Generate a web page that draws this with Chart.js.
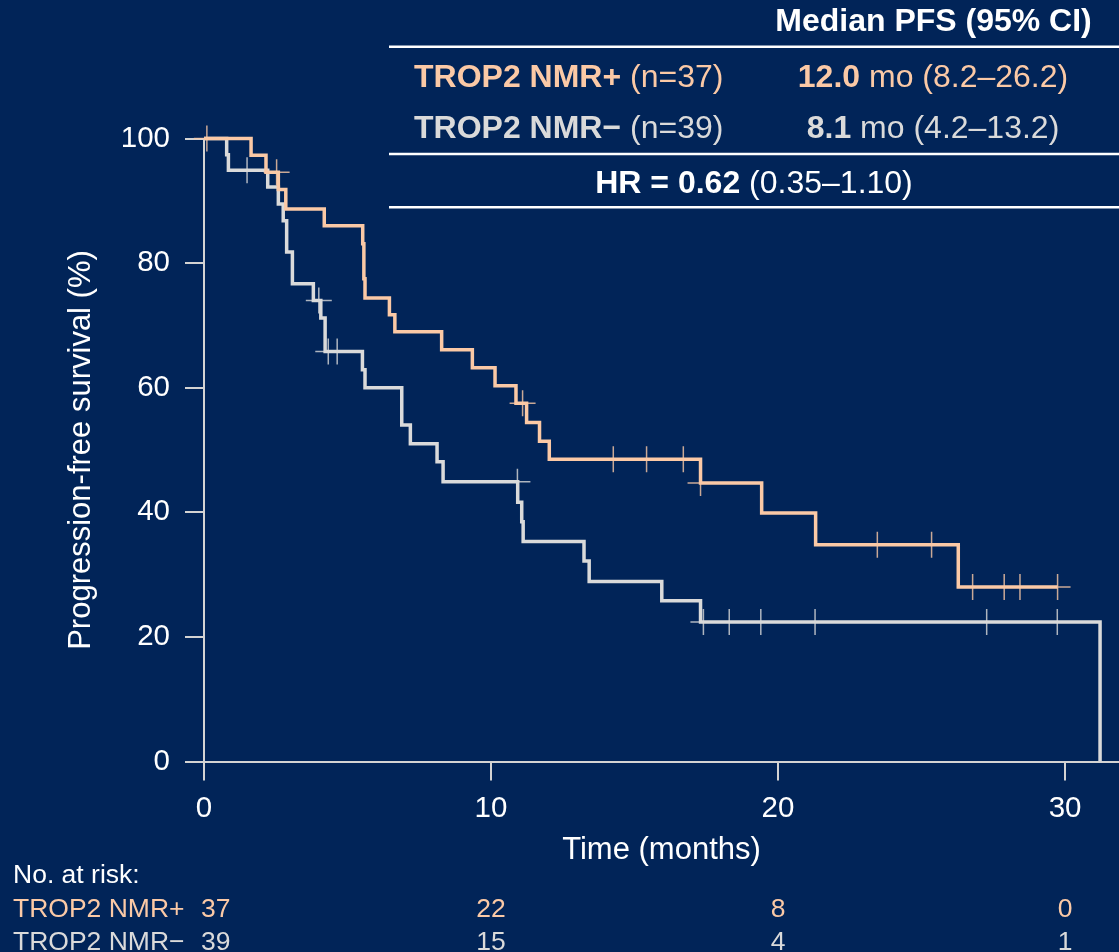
<!DOCTYPE html>
<html>
<head>
<meta charset="utf-8">
<script src="https://cdn.jsdelivr.net/npm/chart.js@4.4.1/dist/chart.umd.min.js"></script>
<style>
  html, body { margin: 0; padding: 0; background: #012458; overflow: hidden; }
  #wrap { width: 1119px; height: 952px; position: relative; }
  canvas { display: block; }
</style>
</head>
<body>
<div id="wrap"><canvas id="c"></canvas></div>
<script>
// ---- Data ----
const groupNames = ['TROP2 NMR+', 'TROP2 NMR\u2212'];

// TROP2 NMR+ : event times (months) and survival (%) after each step
const posTimes = [0, 1.64, 2.16, 2.59, 2.85, 4.19, 5.53, 5.57, 5.61, 6.46, 6.65, 8.28, 9.35, 10.14, 10.87, 11.24, 11.69, 12.03, 17.3, 19.43, 21.31, 26.28, 29.74];
const posSurv  = [100, 97.3, 94.6, 91.8, 88.7, 86.0, 83.1, 77.5, 74.4, 71.7, 69.0, 66.1, 63.2, 60.3, 57.5, 54.4, 51.4, 48.5, 44.7, 39.9, 34.8, 28.0, 28.0];
const posCensor = [0.1, 2.53, 11.1, 14.26, 15.42, 16.7, 17.3, 23.46, 25.35, 26.78, 27.88, 28.43, 29.74];

// TROP2 NMR− : event times (months) and survival (%)
const negTimes = [0, 0.79, 0.85, 2.22, 2.59, 2.76, 2.88, 3.08, 3.81, 4.07, 4.22, 5.52, 5.61, 6.89, 7.19, 8.12, 8.33, 10.93, 11.07, 11.12, 13.24, 13.42, 15.95, 17.3, 31.22];
const negSurv  = [100, 97.4, 94.9, 92.2, 89.5, 86.8, 81.8, 76.7, 74.0, 71.2, 65.8, 62.9, 60.0, 54.0, 51.0, 48.1, 44.9, 41.6, 38.5, 35.3, 32.2, 28.9, 25.8, 22.4, 0];
const negCensor = [1.5, 4.0, 4.33, 4.64, 10.92, 17.4, 18.3, 19.4, 21.29, 27.27, 29.73];

// Axis ticks
const xTicks = [0, 10, 20, 30];
const yTicks = [0, 20, 40, 60, 80, 100];

// Numbers at risk
const riskTimes = [0, 10, 20, 30];
const riskPos = [37, 22, 8, 0];
const riskNeg = [39, 15, 4, 1];

// Summary table
const medianPos = ['12.0', ' mo (8.2\u201326.2)'];
const medianNeg = ['8.1', ' mo (4.2\u201313.2)'];
const nPos = ' (n=37)';
const nNeg = ' (n=39)';
const hrText = ['HR = ', '0.62', ' (0.35\u20131.10)'];

// ---- Styling ----
const ORANGE = '#fbc9a6';
const GREY = '#dadada';
const AXIS = '#d3d3d3';
const FONT = '"Liberation Sans", Arial, sans-serif';

function survAt(times, surv, t) {
  let v = surv[0];
  for (let i = 0; i < times.length; i++) { if (times[i] <= t) v = surv[i]; }
  return v;
}
const toXY = (ts, ss) => ts.map((t, i) => ({x: t, y: ss[i]}));
const censorXY = (cs, ts, ss) => cs.map(t => ({x: t, y: survAt(ts, ss, t)}));

function drawSegs(ctx, segs, x, y, align, size) {
  let widths = segs.map(s => { ctx.font = (s.b ? 'bold ' : '') + size + 'px ' + FONT; return ctx.measureText(s.t).width; });
  let total = widths.reduce((a, b) => a + b, 0);
  let cx = align === 'center' ? x - total / 2 : (align === 'right' ? x - total : x);
  ctx.textAlign = 'left';
  ctx.textBaseline = 'alphabetic';
  segs.forEach((s, i) => {
    ctx.font = (s.b ? 'bold ' : '') + size + 'px ' + FONT;
    ctx.fillStyle = s.c;
    ctx.fillText(s.t, cx, y);
    cx += widths[i];
  });
}

const tablePlugin = {
  id: 'tables',
  afterDraw(chart) {
    const ctx = chart.ctx;
    ctx.save();
    const TS = 32;
    // header
    drawSegs(ctx, [{t: 'Median PFS (95% CI)', b: true, c: '#ffffff'}], 933.5, 31, 'center', TS);
    // rules
    ctx.strokeStyle = '#ffffff';
    ctx.lineWidth = 2.5;
    [46.7, 154, 207.3].forEach(y => {
      ctx.beginPath(); ctx.moveTo(389, y); ctx.lineTo(1119, y); ctx.stroke();
    });
    // rows
    drawSegs(ctx, [{t: groupNames[0], b: true, c: ORANGE}, {t: nPos, b: false, c: ORANGE}], 414, 86.5, 'left', TS);
    drawSegs(ctx, [{t: medianPos[0], b: true, c: ORANGE}, {t: medianPos[1], b: false, c: ORANGE}], 933, 86.5, 'center', TS);
    drawSegs(ctx, [{t: groupNames[1], b: true, c: GREY}, {t: nNeg, b: false, c: GREY}], 414, 138, 'left', TS);
    drawSegs(ctx, [{t: medianNeg[0], b: true, c: GREY}, {t: medianNeg[1], b: false, c: GREY}], 933, 138, 'center', TS);
    drawSegs(ctx, [{t: hrText[0], b: true, c: '#ffffff'}, {t: hrText[1], b: true, c: '#ffffff'}, {t: hrText[2], b: false, c: '#ffffff'}], 754, 193, 'center', TS);

    // risk table
    const RS = 26.5;
    const xs = chart.scales.x;
    drawSegs(ctx, [{t: 'No. at risk:', b: false, c: '#ffffff'}], 13, 883, 'left', RS);
    drawSegs(ctx, [{t: groupNames[0], b: false, c: ORANGE}], 13, 916.5, 'left', RS);
    drawSegs(ctx, [{t: groupNames[1], b: false, c: GREY}], 13, 950, 'left', RS);
    riskTimes.forEach((t, i) => {
      const px = xs.getPixelForValue(t);
      const al = i === 0 ? 'left' : 'center';
      const xx = i === 0 ? px - 3 : px;
      drawSegs(ctx, [{t: String(riskPos[i]), b: false, c: ORANGE}], xx, 916.5, al, RS);
      drawSegs(ctx, [{t: String(riskNeg[i]), b: false, c: GREY}], xx, 950, al, RS);
    });
    ctx.restore();
  }
};

Chart.defaults.font.family = FONT;
Chart.defaults.color = '#ffffff';

new Chart(document.getElementById('c'), {
  type: 'line',
  data: {
    datasets: [
      {type: 'scatter', data: censorXY(posCensor, posTimes, posSurv), pointStyle: 'cross', pointRadius: 13, pointBorderWidth: 1.5, borderColor: 'rgba(251,201,166,0.8)', backgroundColor: 'rgba(0,0,0,0)', showLine: false, clip: false},
      {type: 'scatter', data: censorXY(negCensor, negTimes, negSurv), pointStyle: 'cross', pointRadius: 13, pointBorderWidth: 1.5, borderColor: 'rgba(218,218,218,0.8)', backgroundColor: 'rgba(0,0,0,0)', showLine: false, clip: false},
      {label: groupNames[0], data: toXY(posTimes, posSurv), stepped: 'before', borderColor: ORANGE, borderWidth: 3.5, pointRadius: 0, fill: false, clip: false},
      {label: groupNames[1], data: toXY(negTimes, negSurv), stepped: 'before', borderColor: GREY, borderWidth: 3.5, pointRadius: 0, fill: false, clip: false}
    ]
  },
  options: {
    responsive: true,
    maintainAspectRatio: false,
    animation: false,
    events: [],
    layout: {autoPadding: false, padding: {left: 0, right: 0, top: 138.5, bottom: 83.4}},
    plugins: {legend: {display: false}, tooltip: {enabled: false}},
    scales: {
      x: {
        type: 'linear', min: 0, max: 31.88,
        afterBuildTicks: a => { a.ticks = xTicks.map(v => ({value: v})); },
        afterFit: s => { s.height = 107.1; s.paddingLeft = 0; s.paddingRight = 0; },
        ticks: {color: '#ffffff', font: {size: 29.5}, padding: 11, maxRotation: 0, autoSkip: false},
        grid: {drawOnChartArea: false, drawTicks: true, tickLength: 19, tickColor: AXIS, tickWidth: 2, lineWidth: 2, color: AXIS},
        border: {display: true, color: AXIS, width: 2},
        title: {display: true, text: 'Time (months)', color: '#ffffff', font: {size: 31}, padding: 0}
      },
      y: {
        type: 'linear', min: 0, max: 100,
        afterBuildTicks: a => { a.ticks = yTicks.map(v => ({value: v})); },
        afterFit: s => { s.width = 204; },
        ticks: {color: '#ffffff', font: {size: 29.5}, padding: 15},
        grid: {drawOnChartArea: false, drawTicks: true, tickLength: 19, tickColor: AXIS, tickWidth: 2, lineWidth: 2, color: AXIS},
        border: {display: true, color: AXIS, width: 2},
        title: {display: true, text: 'Progression-free survival (%)', color: '#ffffff', font: {size: 31}, padding: {top: 62.4, bottom: 0}}
      }
    }
  },
  plugins: [tablePlugin]
});
</script>
</body>
</html>
